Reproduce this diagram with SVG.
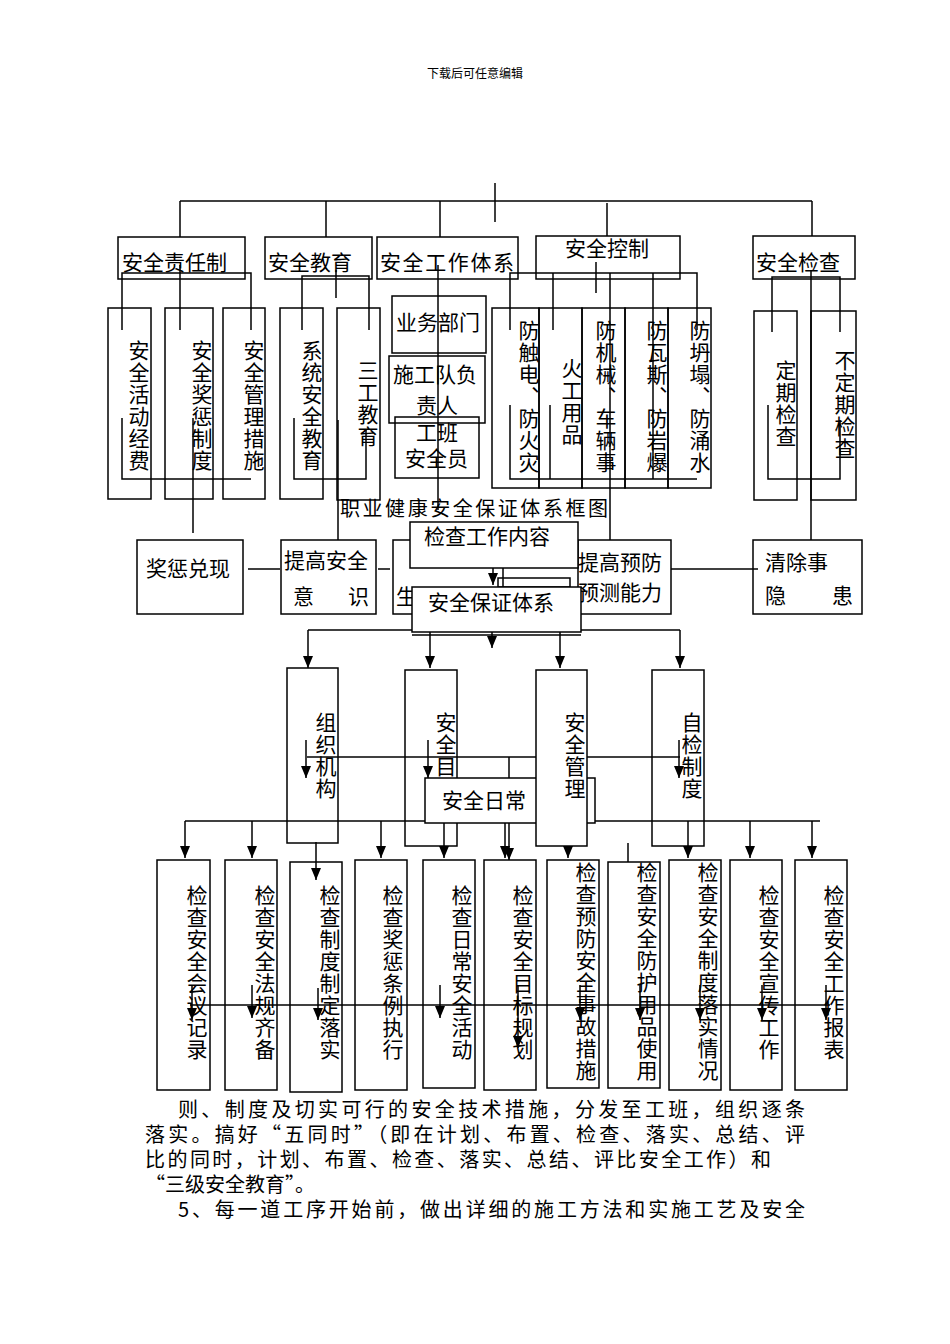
<svg xmlns="http://www.w3.org/2000/svg" width="950" height="1344" viewBox="0 0 950 1344">
<defs>
<marker id="ar" markerWidth="12" markerHeight="10" refX="12" refY="5" orient="auto" markerUnits="userSpaceOnUse" viewBox="0 0 12 10"><path d="M0,0 L12,5 L0,10 Z" fill="#000"/></marker>
<style>
rect{fill:none;stroke:#000;stroke-width:1.5}
line,polyline{stroke:#000;stroke-width:1.5;fill:none}
text{font-family:"Noto Sans CJK SC","Noto Sans",sans-serif;font-size:21px;fill:#000}
.p{font-size:20px}
.v{writing-mode:vertical-rl;letter-spacing:1px}
.a{marker-end:url(#ar)}
</style>
</defs>
<rect x="0" y="0" width="950" height="1344" style="fill:#fff;stroke:none"/>
<text x="475" y="78" text-anchor="middle" style="font-size:12px">下载后可任意编辑</text>
<g id="connectors">
<line x1="495" y1="183" x2="495" y2="222"/>
<line x1="180" y1="201" x2="812" y2="201"/>
<line x1="180" y1="201" x2="180" y2="237"/><line x1="326" y1="201" x2="326" y2="237"/><line x1="440" y1="201" x2="440" y2="237"/><line x1="607" y1="203" x2="607" y2="236"/><line x1="812" y1="201" x2="812" y2="236"/>
<polyline points="122,330 122,273 251,273 251,330"/><line x1="180" y1="265" x2="180" y2="330"/>
<polyline points="122,418 122,479 251,479"/><line x1="193" y1="418" x2="193" y2="533"/>
<polyline points="302,330 302,276 369,276 369,330"/><line x1="336" y1="270" x2="336" y2="298"/>
<polyline points="294,418 294,479 366,479 366,430"/><line x1="338" y1="420" x2="338" y2="540"/>
<line x1="438" y1="265" x2="438" y2="510"/>
<polyline points="510,330 510,273 697,273 697,330"/><line x1="553" y1="273" x2="553" y2="330"/><line x1="596" y1="262" x2="596" y2="293"/><line x1="653" y1="273" x2="653" y2="479"/>
<polyline points="510,405 510,479 697,479"/><line x1="550" y1="405" x2="550" y2="479"/><line x1="610" y1="273" x2="610" y2="540"/>
<polyline points="772,332 772,277 840,277 840,332"/><polyline points="768,405 768,479 840,479 840,420"/><line x1="811" y1="270" x2="811" y2="540"/>
<line x1="248" y1="569" x2="280" y2="569"/><line x1="378" y1="569" x2="390" y2="569"/><line x1="671" y1="569" x2="758" y2="569"/>
<line x1="493" y1="545" x2="493" y2="585" class="a"/>
<line x1="492" y1="612" x2="492" y2="648" class="a"/>
<line x1="308" y1="630" x2="680" y2="630"/>
<line x1="308" y1="630" x2="308" y2="668" class="a"/><line x1="430" y1="630" x2="430" y2="668" class="a"/><line x1="560" y1="630" x2="560" y2="668" class="a"/><line x1="680" y1="630" x2="680" y2="668" class="a"/>
<line x1="307" y1="757" x2="680" y2="757"/>
<line x1="306" y1="740" x2="306" y2="778" class="a"/><line x1="428" y1="740" x2="428" y2="778" class="a"/><line x1="558" y1="740" x2="558" y2="778" class="a"/><line x1="679" y1="740" x2="679" y2="778" class="a"/>
<line x1="509" y1="757" x2="509" y2="800" class="a"/><line x1="509" y1="805" x2="509" y2="860" class="a"/>
<line x1="185" y1="821" x2="820" y2="821"/>
<line x1="185" y1="821" x2="185" y2="858" class="a"/><line x1="252" y1="821" x2="252" y2="858" class="a"/><line x1="316" y1="842" x2="316" y2="880" class="a"/><line x1="381" y1="821" x2="381" y2="858" class="a"/><line x1="444" y1="821" x2="444" y2="858" class="a"/><line x1="505" y1="821" x2="505" y2="858" class="a"/><line x1="568" y1="821" x2="568" y2="858" class="a"/><line x1="628" y1="843" x2="628" y2="862"/><line x1="688" y1="821" x2="688" y2="858" class="a"/><line x1="750" y1="821" x2="750" y2="858" class="a"/><line x1="812" y1="821" x2="812" y2="858" class="a"/>
<line x1="190" y1="1005" x2="830" y2="1005"/>
<line x1="192" y1="985" x2="192" y2="1020" class="a"/><line x1="252" y1="985" x2="252" y2="1018" class="a"/><line x1="318" y1="988" x2="318" y2="1020" class="a"/><line x1="440" y1="985" x2="440" y2="1018" class="a"/><line x1="518" y1="985" x2="518" y2="1048" class="a"/><line x1="580" y1="985" x2="580" y2="1020" class="a"/><line x1="640" y1="985" x2="640" y2="1020" class="a"/><line x1="700" y1="985" x2="700" y2="1020" class="a"/><line x1="762" y1="985" x2="762" y2="1020" class="a"/><line x1="826" y1="985" x2="826" y2="1020" class="a"/>
</g>
<g id="n1"><rect x="118" y="237" width="127" height="42"/><text x="122" y="270">安全责任制</text></g>
<g id="n2"><rect x="265" y="237" width="107" height="42"/><text x="268" y="270">安全教育</text></g>
<g id="n3"><rect x="377" y="237" width="141" height="42"/><text x="380" y="270" textLength="134">安全工作体系</text></g>
<g id="n4"><rect x="536" y="236" width="144" height="43"/><text x="565" y="256">安全控制</text></g>
<g id="n5"><rect x="753" y="236" width="102" height="43"/><text x="756" y="270">安全检查</text></g>
<g id="s1"><rect x="108" y="308" width="43" height="191"/><text x="139" y="340" class="v">安全活动经费</text></g>
<g id="s2"><rect x="165" y="308" width="48" height="191"/><text x="202" y="340" class="v">安全奖惩制度</text></g>
<g id="s3"><rect x="223" y="308" width="42" height="191"/><text x="254" y="340" class="v">安全管理措施</text></g>
<g id="s4"><rect x="280" y="308" width="43" height="191"/><text x="312" y="340" class="v">系统安全教育</text></g>
<g id="s5"><rect x="337" y="308" width="43" height="192"/><text x="368" y="360" class="v">三工教育</text></g>
<g id="s6"><rect x="392" y="296" width="94" height="57"/><text x="396" y="330">业务部门</text></g>
<g id="s7"><rect x="389" y="356" width="96" height="67"/><text x="393" y="382">施工队负</text><text x="416" y="413">责人</text></g>
<g id="s8"><rect x="395" y="417" width="84" height="61"/><text x="416" y="440">工班</text><text x="405" y="466">安全员</text></g>
<g id="s9"><rect x="492" y="308" width="47" height="180"/><text x="529" y="320" class="v">防触电、防火灾</text></g>
<g id="s10"><rect x="539" y="308" width="43" height="180"/><text x="572" y="358" class="v">火工用品</text></g>
<g id="s11"><rect x="582" y="308" width="43" height="180"/><text x="606" y="320" class="v">防机械、车辆事</text></g>
<g id="s12"><rect x="625" y="308" width="43" height="180"/><text x="657" y="320" class="v">防瓦斯、防岩爆</text></g>
<g id="s13"><rect x="668" y="308" width="43" height="180"/><text x="700" y="320" class="v">防坍塌、防涌水</text></g>
<g id="s14"><rect x="754" y="311" width="43" height="189"/><text x="786" y="360" class="v">定期检查</text></g>
<g id="s15"><rect x="811" y="311" width="45" height="189"/><text x="845" y="350" class="v">不定期检查</text></g>
<text x="340" y="516" textLength="268" style="font-size:20px">职业健康安全保证体系框图</text>
<g id="r1"><rect x="137" y="540" width="106" height="74"/><text x="146" y="576">奖惩兑现</text></g>
<g id="r2"><rect x="281" y="540" width="95" height="74"/><text x="284" y="568">提高安全</text><text x="293" y="604">意</text><text x="348" y="604">识</text></g>
<g id="r3"><rect x="393" y="540" width="110" height="74"/><text x="396" y="604">生</text></g>
<g id="r4"><rect x="578" y="540" width="93" height="74"/><text x="578" y="570">提高预防</text><text x="578" y="600">预测能力</text></g>
<g id="r5"><rect x="753" y="540" width="109" height="74"/><text x="765" y="570">清除事</text><text x="765" y="603">隐</text><text x="832" y="603">患</text></g>
<g id="r6"><rect x="410" y="522" width="168" height="46" style="fill:#fff"/><text x="424" y="544">检查工作内容</text></g>
<rect x="498" y="578" width="72" height="9"/>
<g id="r7"><rect x="412" y="587" width="169" height="45" style="fill:#fff"/><line x1="412" y1="635" x2="581" y2="635"/><text x="428" y="610">安全保证体系</text></g>
<g id="c1"><rect x="287" y="668" width="51" height="175"/><text x="326" y="712" class="v">组织机构</text></g>
<g id="c2"><rect x="405" y="670" width="52" height="176"/><text x="446" y="712" class="v">安全目</text></g>
<g id="c4"><rect x="652" y="670" width="52" height="176"/><text x="692" y="712" class="v">自检制度</text></g>
<g id="c5"><rect x="425" y="778" width="170" height="45" style="fill:#fff"/><text x="442" y="808">安全日常</text></g>
<g id="c3"><rect x="536" y="670" width="51" height="176" style="fill:#fff"/><text x="575" y="712" class="v">安全管理</text></g>
<g id="b1"><rect x="157" y="860" width="53" height="230"/><text x="197" y="885" class="v">检查安全会议记录</text></g>
<g id="b2"><rect x="225" y="860" width="52" height="230"/><text x="265" y="885" class="v">检查安全法规齐备</text></g>
<g id="b3"><rect x="290" y="862" width="52" height="230"/><text x="330" y="885" class="v">检查制度制定落实</text></g>
<g id="b4"><rect x="355" y="860" width="52" height="230"/><text x="393" y="885" class="v">检查奖惩条例执行</text></g>
<g id="b5"><rect x="423" y="860" width="52" height="228"/><text x="462" y="885" class="v">检查日常安全活动</text></g>
<g id="b6"><rect x="484" y="860" width="52" height="230"/><text x="523" y="885" class="v">检查安全目标规划</text></g>
<g id="b7"><rect x="547" y="860" width="52" height="228"/><text x="586" y="862" class="v">检查预防安全事故措施</text></g>
<g id="b8"><rect x="608" y="862" width="52" height="226"/><text x="647" y="862" class="v">检查安全防护用品使用</text></g>
<g id="b9"><rect x="669" y="860" width="52" height="230"/><text x="708" y="862" class="v">检查安全制度落实情况</text></g>
<g id="b10"><rect x="730" y="860" width="52" height="230"/><text x="769" y="885" class="v">检查安全宣传工作</text></g>
<g id="b11"><rect x="795" y="860" width="52" height="230"/><text x="834" y="885" class="v">检查安全工作报表</text></g>
<text class="p" x="178" y="1117" textLength="627">则、制度及切实可行的安全技术措施，分发至工班，组织逐条</text>
<text class="p" x="145" y="1142" textLength="660">落实。搞好“五同时”（即在计划、布置、检查、落实、总结、评</text>
<text class="p" x="145" y="1167" textLength="626">比的同时，计划、布置、检查、落实、总结、评比安全工作）和</text>
<text class="p" x="145" y="1192">“三级安全教育”。</text>
<text class="p" x="178" y="1217" textLength="627">5、每一道工序开始前，做出详细的施工方法和实施工艺及安全</text>
</svg>
